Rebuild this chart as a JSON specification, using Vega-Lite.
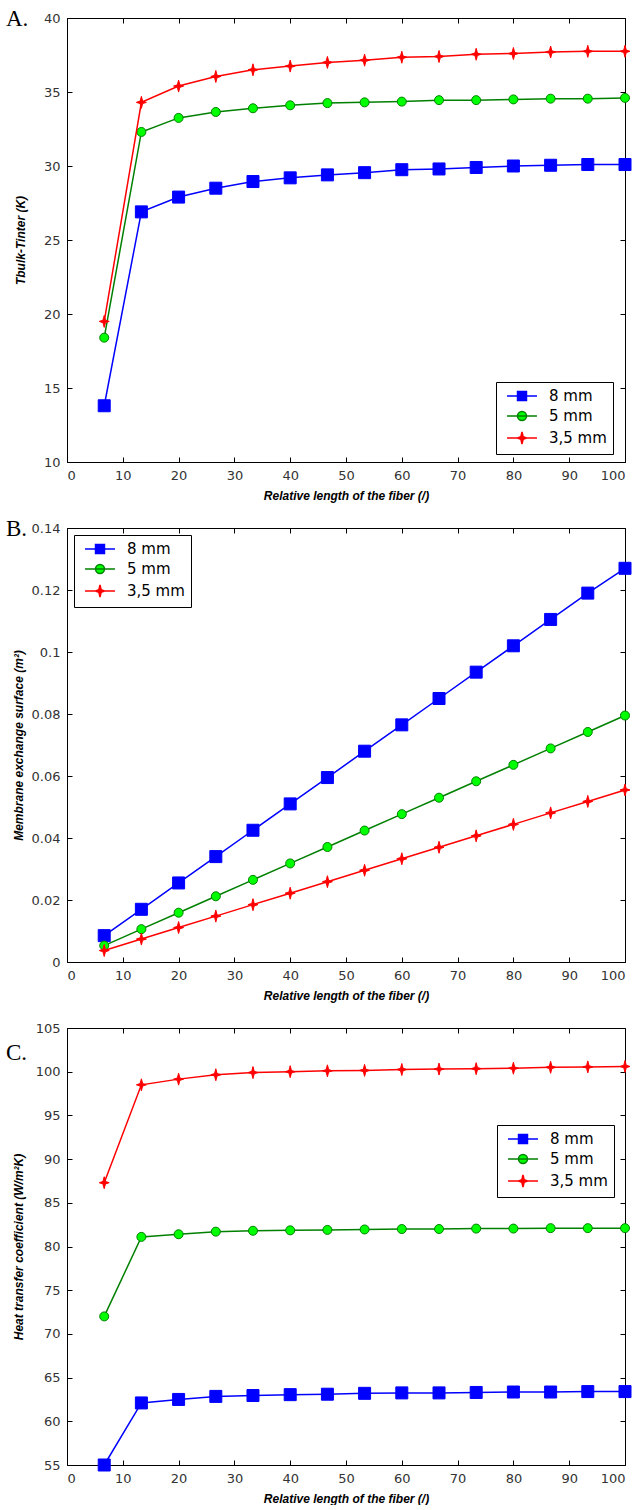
{
"$schema":"https://vega.github.io/schema/vega-lite/v6.json",
"padding":{"left":5,"right":14,"top":7,"bottom":0},
"background":"white",
"spacing":66,
"bounds":"flush",
"resolve":{"scale":{"shape":"independent","fill":"independent","stroke":"independent"},"legend":{"shape":"independent","fill":"independent","stroke":"independent"}},
"config":{
 "view":{"stroke":"black","strokeWidth":1},
 "axis":{"grid":false,"domain":false,"ticks":true,"tickColor":"black","tickSize":-5,"tickWidth":1,"labelFont":"DejaVu Sans","labelFontSize":13,"labelColor":"#333","labelPadding":12,"titleFont":"Liberation Sans","titleFontSize":12,"titleFontWeight":"bold","titleFontStyle":"italic","titleColor":"black"},
 "legend":{"orient":"none","strokeColor":"black","fillColor":"white","padding":6,"rowPadding":4,"labelFont":"DejaVu Sans","labelFontSize":15,"labelColor":"black","symbolSize":196,"symbolStrokeWidth":1.5,"symbolOffset":12,"labelOffset":19,"symbolOpacity":1,"labelExpr":"datum.label + '\u00a0'"},
 "title":{"font":"Liberation Serif","fontSize":23,"fontWeight":"normal","color":"black","anchor":"start","frame":"group","orient":"top","baseline":"alphabetic","offset":0}
},
"datasets":{
"a":[
{"x":6.67,"s":"8 mm","y":13.8},{"x":13.33,"s":"8 mm","y":26.9},{"x":20,"s":"8 mm","y":27.9},{"x":26.67,"s":"8 mm","y":28.5},{"x":33.33,"s":"8 mm","y":28.95},{"x":40,"s":"8 mm","y":29.2},{"x":46.67,"s":"8 mm","y":29.4},{"x":53.33,"s":"8 mm","y":29.55},{"x":60,"s":"8 mm","y":29.75},{"x":66.67,"s":"8 mm","y":29.8},{"x":73.33,"s":"8 mm","y":29.9},{"x":80,"s":"8 mm","y":30.0},{"x":86.67,"s":"8 mm","y":30.05},{"x":93.33,"s":"8 mm","y":30.1},{"x":100,"s":"8 mm","y":30.1},
{"x":6.67,"s":"5 mm","y":18.4},{"x":13.33,"s":"5 mm","y":32.3},{"x":20,"s":"5 mm","y":33.25},{"x":26.67,"s":"5 mm","y":33.65},{"x":33.33,"s":"5 mm","y":33.9},{"x":40,"s":"5 mm","y":34.1},{"x":46.67,"s":"5 mm","y":34.25},{"x":53.33,"s":"5 mm","y":34.3},{"x":60,"s":"5 mm","y":34.35},{"x":66.67,"s":"5 mm","y":34.45},{"x":73.33,"s":"5 mm","y":34.45},{"x":80,"s":"5 mm","y":34.5},{"x":86.67,"s":"5 mm","y":34.55},{"x":93.33,"s":"5 mm","y":34.55},{"x":100,"s":"5 mm","y":34.6},
{"x":6.67,"s":"3,5 mm","y":19.5},{"x":13.33,"s":"3,5 mm","y":34.3},{"x":20,"s":"3,5 mm","y":35.4},{"x":26.67,"s":"3,5 mm","y":36.05},{"x":33.33,"s":"3,5 mm","y":36.5},{"x":40,"s":"3,5 mm","y":36.75},{"x":46.67,"s":"3,5 mm","y":37.0},{"x":53.33,"s":"3,5 mm","y":37.15},{"x":60,"s":"3,5 mm","y":37.35},{"x":66.67,"s":"3,5 mm","y":37.4},{"x":73.33,"s":"3,5 mm","y":37.55},{"x":80,"s":"3,5 mm","y":37.6},{"x":86.67,"s":"3,5 mm","y":37.7},{"x":93.33,"s":"3,5 mm","y":37.75},{"x":100,"s":"3,5 mm","y":37.75}
],
"b":[
{"x":6.67,"s":"8 mm","y":0.0085},{"x":13.33,"s":"8 mm","y":0.017},{"x":20,"s":"8 mm","y":0.0255},{"x":26.67,"s":"8 mm","y":0.034},{"x":33.33,"s":"8 mm","y":0.0425},{"x":40,"s":"8 mm","y":0.051},{"x":46.67,"s":"8 mm","y":0.0595},{"x":53.33,"s":"8 mm","y":0.068},{"x":60,"s":"8 mm","y":0.0765},{"x":66.67,"s":"8 mm","y":0.085},{"x":73.33,"s":"8 mm","y":0.0935},{"x":80,"s":"8 mm","y":0.102},{"x":86.67,"s":"8 mm","y":0.1105},{"x":93.33,"s":"8 mm","y":0.119},{"x":100,"s":"8 mm","y":0.127},
{"x":6.67,"s":"5 mm","y":0.0053},{"x":13.33,"s":"5 mm","y":0.0106},{"x":20,"s":"5 mm","y":0.0159},{"x":26.67,"s":"5 mm","y":0.0212},{"x":33.33,"s":"5 mm","y":0.0265},{"x":40,"s":"5 mm","y":0.0318},{"x":46.67,"s":"5 mm","y":0.0371},{"x":53.33,"s":"5 mm","y":0.0424},{"x":60,"s":"5 mm","y":0.0477},{"x":66.67,"s":"5 mm","y":0.053},{"x":73.33,"s":"5 mm","y":0.0583},{"x":80,"s":"5 mm","y":0.0636},{"x":86.67,"s":"5 mm","y":0.0689},{"x":93.33,"s":"5 mm","y":0.0742},{"x":100,"s":"5 mm","y":0.0795},
{"x":6.67,"s":"3,5 mm","y":0.0037},{"x":13.33,"s":"3,5 mm","y":0.0074},{"x":20,"s":"3,5 mm","y":0.0111},{"x":26.67,"s":"3,5 mm","y":0.0148},{"x":33.33,"s":"3,5 mm","y":0.0185},{"x":40,"s":"3,5 mm","y":0.0222},{"x":46.67,"s":"3,5 mm","y":0.0259},{"x":53.33,"s":"3,5 mm","y":0.0296},{"x":60,"s":"3,5 mm","y":0.0333},{"x":66.67,"s":"3,5 mm","y":0.037},{"x":73.33,"s":"3,5 mm","y":0.0407},{"x":80,"s":"3,5 mm","y":0.0444},{"x":86.67,"s":"3,5 mm","y":0.0481},{"x":93.33,"s":"3,5 mm","y":0.0518},{"x":100,"s":"3,5 mm","y":0.0555}
],
"c":[
{"x":6.67,"s":"8 mm","y":55.0},{"x":13.33,"s":"8 mm","y":62.1},{"x":20,"s":"8 mm","y":62.5},{"x":26.67,"s":"8 mm","y":62.85},{"x":33.33,"s":"8 mm","y":62.95},{"x":40,"s":"8 mm","y":63.05},{"x":46.67,"s":"8 mm","y":63.1},{"x":53.33,"s":"8 mm","y":63.2},{"x":60,"s":"8 mm","y":63.25},{"x":66.67,"s":"8 mm","y":63.25},{"x":73.33,"s":"8 mm","y":63.3},{"x":80,"s":"8 mm","y":63.35},{"x":86.67,"s":"8 mm","y":63.35},{"x":93.33,"s":"8 mm","y":63.4},{"x":100,"s":"8 mm","y":63.4},
{"x":6.67,"s":"5 mm","y":72.0},{"x":13.33,"s":"5 mm","y":81.1},{"x":20,"s":"5 mm","y":81.4},{"x":26.67,"s":"5 mm","y":81.7},{"x":33.33,"s":"5 mm","y":81.8},{"x":40,"s":"5 mm","y":81.85},{"x":46.67,"s":"5 mm","y":81.9},{"x":53.33,"s":"5 mm","y":81.95},{"x":60,"s":"5 mm","y":82.0},{"x":66.67,"s":"5 mm","y":82.0},{"x":73.33,"s":"5 mm","y":82.05},{"x":80,"s":"5 mm","y":82.05},{"x":86.67,"s":"5 mm","y":82.1},{"x":93.33,"s":"5 mm","y":82.1},{"x":100,"s":"5 mm","y":82.1},
{"x":6.67,"s":"3,5 mm","y":87.3},{"x":13.33,"s":"3,5 mm","y":98.5},{"x":20,"s":"3,5 mm","y":99.15},{"x":26.67,"s":"3,5 mm","y":99.65},{"x":33.33,"s":"3,5 mm","y":99.9},{"x":40,"s":"3,5 mm","y":100.0},{"x":46.67,"s":"3,5 mm","y":100.1},{"x":53.33,"s":"3,5 mm","y":100.15},{"x":60,"s":"3,5 mm","y":100.25},{"x":66.67,"s":"3,5 mm","y":100.3},{"x":73.33,"s":"3,5 mm","y":100.35},{"x":80,"s":"3,5 mm","y":100.4},{"x":86.67,"s":"3,5 mm","y":100.5},{"x":93.33,"s":"3,5 mm","y":100.55},{"x":100,"s":"3,5 mm","y":100.6}
]
},
"vconcat":[
{
 "width":558,"height":444,
 "title":{"text":"A.","dx":-61,"dy":23},
 "data":{"name":"a"},
 "resolve":{"axis":{"x":"independent","y":"independent"}},
 "layer":[
  {"transform":[{"filter":{"field":"s","equal":"8 mm"}}],
   "mark":{"type":"line","stroke":"#0000ff","strokeWidth":1.5},
   "encoding":{
    "x":{"field":"x","type":"quantitative","scale":{"domain":[0,100],"nice":false},"axis":{"values":[0,10,20,30,40,50,60,70,80,90,100],"title":"Relative length of the fiber (/)","titlePadding":8}},
    "y":{"field":"y","type":"quantitative","scale":{"domain":[10,40],"nice":false,"zero":false},"axis":{"values":[10,15,20,25,30,35,40],"title":"Tbulk-Tinter  (K)","titlePadding":16}}}},
  {"transform":[{"filter":{"field":"s","equal":"8 mm"}}],
   "mark":{"type":"point","shape":"square","filled":true,"fill":"#0000ff","stroke":"#0000ff","strokeWidth":1,"size":144,"opacity":1},
   "encoding":{
    "x":{"field":"x","type":"quantitative","axis":{"orient":"top","labels":false,"title":null,"values":[0,10,20,30,40,50,60,70,80,90,100]}},
    "y":{"field":"y","type":"quantitative","axis":{"orient":"right","labels":false,"title":null,"values":[10,15,20,25,30,35,40]}}}},
  {"transform":[{"filter":{"field":"s","equal":"5 mm"}}],
   "mark":{"type":"line","stroke":"#008000","strokeWidth":1.5},
   "encoding":{"x":{"field":"x","type":"quantitative","axis":null},"y":{"field":"y","type":"quantitative","axis":null}}},
  {"transform":[{"filter":{"field":"s","equal":"5 mm"}}],
   "mark":{"type":"point","shape":"circle","filled":true,"fill":"#00ff00","stroke":"#008000","strokeWidth":1,"size":81,"opacity":1},
   "encoding":{"x":{"field":"x","type":"quantitative","axis":null},"y":{"field":"y","type":"quantitative","axis":null}}},
  {"transform":[{"filter":{"field":"s","equal":"3,5 mm"}}],
   "mark":{"type":"line","stroke":"#ff0000","strokeWidth":1.5},
   "encoding":{"x":{"field":"x","type":"quantitative","axis":null},"y":{"field":"y","type":"quantitative","axis":null}}},
  {"transform":[{"filter":{"field":"s","equal":"3,5 mm"}}],
   "mark":{"type":"point","shape":"M0,-1.2L0.25,-0.25L1,0L0.25,0.25L0,1.2L-0.25,0.25L-1,0L-0.25,-0.25Z","filled":true,"fill":"#ff0000","stroke":"#ff0000","strokeWidth":1,"size":100,"opacity":1},
   "encoding":{"x":{"field":"x","type":"quantitative","axis":null},"y":{"field":"y","type":"quantitative","axis":null}}},
  {"mark":{"type":"point","filled":true,"opacity":0,"strokeWidth":1.5},
   "encoding":{
    "x":{"field":"x","type":"quantitative","axis":null},"y":{"field":"y","type":"quantitative","axis":null},
    "shape":{"field":"s","type":"nominal","scale":{"domain":["8 mm","5 mm","3,5 mm"],"range":["M-2.14,0H2.14M-0.64,-0.64H0.64V0.64H-0.64Z","M-2.14,0H2.14M0.64,0C0.64,0.3535,0.3535,0.64,0,0.64C-0.3535,0.64,-0.64,0.3535,-0.64,0C-0.64,-0.3535,-0.3535,-0.64,0,-0.64C0.3535,-0.64,0.64,-0.3535,0.64,0Z","M-2.14,0H2.14M0,-0.86L0.17,-0.17L0.64,0L0.17,0.17L0,0.86L-0.17,0.17L-0.64,0L-0.17,-0.17Z"]},"legend":{"title":null,"legendX":429,"legendY":364}},
    "fill":{"field":"s","type":"nominal","scale":{"domain":["8 mm","5 mm","3,5 mm"],"range":["#0000ff","#00ff00","#ff0000"]},"legend":{"title":null,"legendX":429,"legendY":364}},
    "stroke":{"field":"s","type":"nominal","scale":{"domain":["8 mm","5 mm","3,5 mm"],"range":["#0000ff","#008000","#ff0000"]},"legend":{"title":null,"legendX":429,"legendY":364}}}}
 ]
},
{
 "width":558,"height":434,
 "title":{"text":"B.","dx":-61,"dy":23},
 "data":{"name":"b"},
 "resolve":{"axis":{"x":"independent","y":"independent"}},
 "layer":[
  {"transform":[{"filter":{"field":"s","equal":"8 mm"}}],
   "mark":{"type":"line","stroke":"#0000ff","strokeWidth":1.5},
   "encoding":{
    "x":{"field":"x","type":"quantitative","scale":{"domain":[0,100],"nice":false},"axis":{"values":[0,10,20,30,40,50,60,70,80,90,100],"title":"Relative length of the fiber (/)","titlePadding":8}},
    "y":{"field":"y","type":"quantitative","scale":{"domain":[0,0.14],"nice":false},"axis":{"values":[0,0.02,0.04,0.06,0.08,0.1,0.12,0.14],"format":"~g","title":"Membrane exchange surface (m²)","titlePadding":6}}}},
  {"transform":[{"filter":{"field":"s","equal":"8 mm"}}],
   "mark":{"type":"point","shape":"square","filled":true,"fill":"#0000ff","stroke":"#0000ff","strokeWidth":1,"size":144,"opacity":1},
   "encoding":{
    "x":{"field":"x","type":"quantitative","axis":{"orient":"top","labels":false,"title":null,"values":[0,10,20,30,40,50,60,70,80,90,100]}},
    "y":{"field":"y","type":"quantitative","axis":{"orient":"right","labels":false,"title":null,"values":[0,0.02,0.04,0.06,0.08,0.1,0.12,0.14]}}}},
  {"transform":[{"filter":{"field":"s","equal":"5 mm"}}],
   "mark":{"type":"line","stroke":"#008000","strokeWidth":1.5},
   "encoding":{"x":{"field":"x","type":"quantitative","axis":null},"y":{"field":"y","type":"quantitative","axis":null}}},
  {"transform":[{"filter":{"field":"s","equal":"5 mm"}}],
   "mark":{"type":"point","shape":"circle","filled":true,"fill":"#00ff00","stroke":"#008000","strokeWidth":1,"size":81,"opacity":1},
   "encoding":{"x":{"field":"x","type":"quantitative","axis":null},"y":{"field":"y","type":"quantitative","axis":null}}},
  {"transform":[{"filter":{"field":"s","equal":"3,5 mm"}}],
   "mark":{"type":"line","stroke":"#ff0000","strokeWidth":1.5},
   "encoding":{"x":{"field":"x","type":"quantitative","axis":null},"y":{"field":"y","type":"quantitative","axis":null}}},
  {"transform":[{"filter":{"field":"s","equal":"3,5 mm"}}],
   "mark":{"type":"point","shape":"M0,-1.2L0.25,-0.25L1,0L0.25,0.25L0,1.2L-0.25,0.25L-1,0L-0.25,-0.25Z","filled":true,"fill":"#ff0000","stroke":"#ff0000","strokeWidth":1,"size":100,"opacity":1},
   "encoding":{"x":{"field":"x","type":"quantitative","axis":null},"y":{"field":"y","type":"quantitative","axis":null}}},
  {"mark":{"type":"point","filled":true,"opacity":0,"strokeWidth":1.5},
   "encoding":{
    "x":{"field":"x","type":"quantitative","axis":null},"y":{"field":"y","type":"quantitative","axis":null},
    "shape":{"field":"s","type":"nominal","scale":{"domain":["8 mm","5 mm","3,5 mm"],"range":["M-2.14,0H2.14M-0.64,-0.64H0.64V0.64H-0.64Z","M-2.14,0H2.14M0.64,0C0.64,0.3535,0.3535,0.64,0,0.64C-0.3535,0.64,-0.64,0.3535,-0.64,0C-0.64,-0.3535,-0.3535,-0.64,0,-0.64C0.3535,-0.64,0.64,-0.3535,0.64,0Z","M-2.14,0H2.14M0,-0.86L0.17,-0.17L0.64,0L0.17,0.17L0,0.86L-0.17,0.17L-0.64,0L-0.17,-0.17Z"]},"legend":{"title":null,"legendX":7,"legendY":7}},
    "fill":{"field":"s","type":"nominal","scale":{"domain":["8 mm","5 mm","3,5 mm"],"range":["#0000ff","#00ff00","#ff0000"]},"legend":{"title":null,"legendX":7,"legendY":7}},
    "stroke":{"field":"s","type":"nominal","scale":{"domain":["8 mm","5 mm","3,5 mm"],"range":["#0000ff","#008000","#ff0000"]},"legend":{"title":null,"legendX":7,"legendY":7}}}}
 ]
},
{
 "width":558,"height":437,
 "title":{"text":"C.","dx":-61,"dy":47},
 "data":{"name":"c"},
 "resolve":{"axis":{"x":"independent","y":"independent"}},
 "layer":[
  {"transform":[{"filter":{"field":"s","equal":"8 mm"}}],
   "mark":{"type":"line","stroke":"#0000ff","strokeWidth":1.5},
   "encoding":{
    "x":{"field":"x","type":"quantitative","scale":{"domain":[0,100],"nice":false},"axis":{"values":[0,10,20,30,40,50,60,70,80,90,100],"title":"Relative length of the fiber (/)","titlePadding":8}},
    "y":{"field":"y","type":"quantitative","scale":{"domain":[55,105],"nice":false,"zero":false},"axis":{"values":[55,60,65,70,75,80,85,90,95,100,105],"title":"Heat transfer coefficient  (W/m²K)","titlePadding":10}}}},
  {"transform":[{"filter":{"field":"s","equal":"8 mm"}}],
   "mark":{"type":"point","shape":"square","filled":true,"fill":"#0000ff","stroke":"#0000ff","strokeWidth":1,"size":144,"opacity":1},
   "encoding":{
    "x":{"field":"x","type":"quantitative","axis":{"orient":"top","labels":false,"title":null,"values":[0,10,20,30,40,50,60,70,80,90,100]}},
    "y":{"field":"y","type":"quantitative","axis":{"orient":"right","labels":false,"title":null,"values":[55,60,65,70,75,80,85,90,95,100,105]}}}},
  {"transform":[{"filter":{"field":"s","equal":"5 mm"}}],
   "mark":{"type":"line","stroke":"#008000","strokeWidth":1.5},
   "encoding":{"x":{"field":"x","type":"quantitative","axis":null},"y":{"field":"y","type":"quantitative","axis":null}}},
  {"transform":[{"filter":{"field":"s","equal":"5 mm"}}],
   "mark":{"type":"point","shape":"circle","filled":true,"fill":"#00ff00","stroke":"#008000","strokeWidth":1,"size":81,"opacity":1},
   "encoding":{"x":{"field":"x","type":"quantitative","axis":null},"y":{"field":"y","type":"quantitative","axis":null}}},
  {"transform":[{"filter":{"field":"s","equal":"3,5 mm"}}],
   "mark":{"type":"line","stroke":"#ff0000","strokeWidth":1.5},
   "encoding":{"x":{"field":"x","type":"quantitative","axis":null},"y":{"field":"y","type":"quantitative","axis":null}}},
  {"transform":[{"filter":{"field":"s","equal":"3,5 mm"}}],
   "mark":{"type":"point","shape":"M0,-1.2L0.25,-0.25L1,0L0.25,0.25L0,1.2L-0.25,0.25L-1,0L-0.25,-0.25Z","filled":true,"fill":"#ff0000","stroke":"#ff0000","strokeWidth":1,"size":100,"opacity":1},
   "encoding":{"x":{"field":"x","type":"quantitative","axis":null},"y":{"field":"y","type":"quantitative","axis":null}}},
  {"mark":{"type":"point","filled":true,"opacity":0,"strokeWidth":1.5},
   "encoding":{
    "x":{"field":"x","type":"quantitative","axis":null},"y":{"field":"y","type":"quantitative","axis":null},
    "shape":{"field":"s","type":"nominal","scale":{"domain":["8 mm","5 mm","3,5 mm"],"range":["M-2.14,0H2.14M-0.64,-0.64H0.64V0.64H-0.64Z","M-2.14,0H2.14M0.64,0C0.64,0.3535,0.3535,0.64,0,0.64C-0.3535,0.64,-0.64,0.3535,-0.64,0C-0.64,-0.3535,-0.3535,-0.64,0,-0.64C0.3535,-0.64,0.64,-0.3535,0.64,0Z","M-2.14,0H2.14M0,-0.86L0.17,-0.17L0.64,0L0.17,0.17L0,0.86L-0.17,0.17L-0.64,0L-0.17,-0.17Z"]},"legend":{"title":null,"legendX":430,"legendY":97}},
    "fill":{"field":"s","type":"nominal","scale":{"domain":["8 mm","5 mm","3,5 mm"],"range":["#0000ff","#00ff00","#ff0000"]},"legend":{"title":null,"legendX":430,"legendY":97}},
    "stroke":{"field":"s","type":"nominal","scale":{"domain":["8 mm","5 mm","3,5 mm"],"range":["#0000ff","#008000","#ff0000"]},"legend":{"title":null,"legendX":430,"legendY":97}}}}
 ]
}
]
}
